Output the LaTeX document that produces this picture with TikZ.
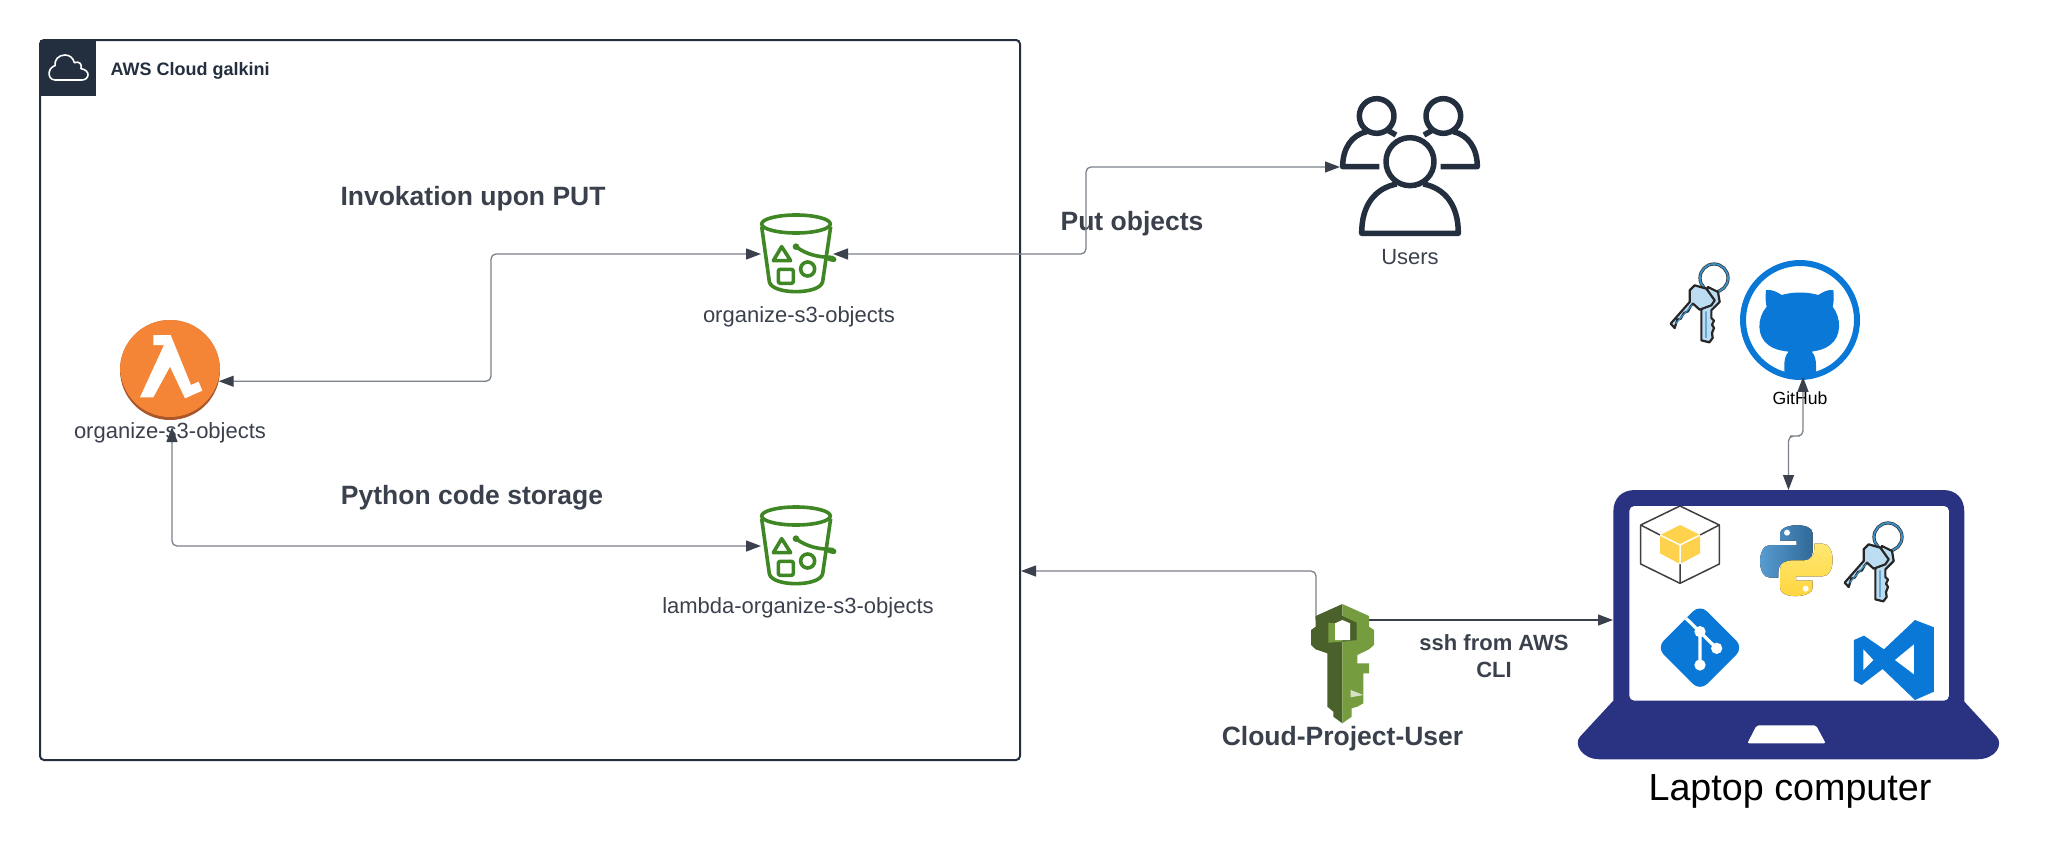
\documentclass[tikz,border=0pt]{standalone}
\usepackage{fontspec}
\setmainfont{Liberation Sans}
\usetikzlibrary{arrows.meta}
\definecolor{awsnavy}{HTML}{232F3E}
\definecolor{inktext}{HTML}{3A414C}
\definecolor{connline}{HTML}{7B818A}
\definecolor{bucketgreen}{HTML}{3F8624}
\definecolor{lambdaorange}{HTML}{F58536}
\definecolor{lambdadark}{HTML}{A9562A}
\definecolor{keylight}{HTML}{759C3E}
\definecolor{keydark}{HTML}{4B612C}
\definecolor{laptopblue}{HTML}{2A3282}
\definecolor{msblue}{HTML}{0A78D7}
\definecolor{keyfill}{HTML}{BCDCF2}
\definecolor{keyring}{HTML}{3A8FC4}
\definecolor{cubeyellow}{HTML}{FFD24D}
\definecolor{pyblueA}{HTML}{5A9FD4}
\definecolor{pyblueB}{HTML}{306998}
\definecolor{pyyellowA}{HTML}{FFE873}
\definecolor{pyyellowB}{HTML}{FFD43B}
\tikzset{
    conn/.style={draw=connline, line width=1.3pt, rounded corners=5pt},
    hold/.style={inner sep=0pt, outer sep=0pt},
    small/.style={text=inktext, font=\fontsize{22}{26}\selectfont},
    heading/.style={text=inktext, font=\fontsize{26.5}{31}\selectfont\bfseries},
}
\begin{document}
\begin{tikzpicture}[x=1pt, y=-1pt, >={Triangle[length=15pt,width=11pt,color=inktext]}]
    \useasboundingbox (0,0) rectangle (2071,846);

    % cloud frame
    \node[hold, draw=awsnavy, line width=2pt, rounded corners=4pt, minimum width=980pt, minimum height=720pt] (cloudbox) at (530,400) {};
    \node[hold, fill=awsnavy, minimum size=56pt] (cloudtag) at (68,68) {};
    \begin{scope}[shift={(20,20)}, scale=0.3333]
        \draw[white, line width=1.6pt, line join=round] (105,180) .. controls (90,180) and (85,165) .. (88,155) .. controls (90,145) and (100,138) .. (105,137) .. controls (103,120) and (115,105) .. (135,105) .. controls (150,105) and (160,115) .. (163,128) .. controls (178,122) and (187,133) .. (183,146) .. controls (198,148) and (205,158) .. (204,165) .. controls (203,175) and (195,180) .. (185,180) -- cycle;
    \end{scope}
    \node[anchor=west, text=awsnavy, font=\fontsize{18}{22}\selectfont\bfseries] (cloudtitle) at (107,70.5) {AWS Cloud galkini};

    \node[heading] (invoketext) at (473,198.5) {Invokation upon PUT};
    \node[heading] (storetext) at (472,498) {Python code storage};
    \node[heading] (puttext) at (1132,223.5) {Put objects};

    % lambda
    \node[hold, circle, fill=lambdadark, minimum size=100pt] (lambda) at (170,370) {};
    \begin{scope}
        \clip (170,370) circle (50pt);
        \fill[lambdaorange] (170,367) circle (50pt);
    \end{scope}
    \begin{scope}[shift={(90,300)}, scale=0.3333]
        \fill[white] (190,105) -- (242,105) -- (303,255) -- (326,245) -- (337,272) -- (285,295) -- (240,200) -- (190,292) -- (150,292) -- (222,135) -- (190,135) -- cycle;
    \end{scope}
    \node[small] (lambdatext) at (170,433) {organize-s3-objects};
    \coordinate (lambdaIn) at (172,427);

    % buckets
    \node[hold, minimum width=72pt, minimum height=76pt] (bucketA) at (797,254) {};
    \node[hold, minimum width=72pt, minimum height=76pt] (bucketB) at (797,546) {};
    \foreach \dy in {0,292} {
        \begin{scope}[shift={(720,200+\dy)}, scale=0.3333, draw=bucketgreen, line width=3.6pt, line join=round]
            \draw (228,72) ellipse (103pt and 27pt);
            \draw (125,80) -- (148,245) .. controls (155,285) and (300,285) .. (308,245) -- (332,80);
            \draw (185,140) -- (160,182) -- (212,182) -- cycle;
            \draw[rounded corners=2pt] (175,208) rectangle (220,250);
            \draw (263,207) circle (21pt);
            \draw (228,140) .. controls (260,165) and (300,172) .. (335,172) .. controls (352,178) and (345,186) .. (322,175);
            \fill[bucketgreen] (228,140) circle (10pt);
        \end{scope}
    }
    \node[small] (bucketAtext) at (799,316.5) {organize-s3-objects};
    \node[small] (bucketBtext) at (798,607.5) {lambda-organize-s3-objects};

    % users
    \node[hold, minimum size=140pt] (users) at (1410,167) {};
    \begin{scope}[shift={(1320,80)}, scale=0.3333, draw=awsnavy, line width=5.5pt, line join=round]
        \draw (170,108) circle (52pt);
        \draw (370,108) circle (52pt);
        \draw (270,245) circle (72pt);
        \draw (230,312) .. controls (165,325) and (125,375) .. (125,460) -- (415,460) .. controls (415,375) and (375,325) .. (310,312);
        \draw (140,155) .. controls (95,165) and (68,205) .. (68,260) -- (178,260);
        \draw (400,155) .. controls (445,165) and (472,205) .. (472,260) -- (362,260);
        \draw (205,152) -- (228,165);
        \draw (335,152) -- (312,165);
    \end{scope}
    \node[small] (userstext) at (1410,257) {Users};

    % github
    \node[hold, circle, draw=msblue, line width=6pt, minimum size=114pt] (github) at (1800,320) {};
    \begin{scope}[shift={(1640,240)}, scale=0.3333]
        \fill[msblue] (378,150) .. controls (395,148) and (410,155) .. (425,165) .. controls (460,155) and (500,155) .. (535,165) .. controls (550,155) and (565,148) .. (580,150) .. controls (582,170) and (582,185) .. (578,200) .. controls (605,235) and (605,290) .. (570,315) .. controls (555,327) and (535,332) .. (515,335) .. controls (525,345) and (528,360) .. (528,375) -- (528,408) .. controls (495,420) and (465,420) .. (433,408) -- (433,375) .. controls (433,360) and (436,345) .. (446,335) .. controls (420,332) and (400,327) .. (385,315) .. controls (350,290) and (350,235) .. (380,200) .. controls (376,185) and (376,170) .. (378,150) -- cycle;
    \end{scope}
    \node[font=\fontsize{17.6}{21}\selectfont] (githubtext) at (1800,398) {GitHub};

    % laptop
    \node[hold, minimum width=351pt, minimum height=260pt] (laptop) at (1788.5,620) {};
    \begin{scope}[shift={(1600,490)}, scale=0.3333]
        \fill[laptopblue] (40,632) -- (40,65) .. controls (40,25) and (65,0) .. (105,0) -- (1030,0) .. controls (1068,0) and (1093,25) .. (1093,65) -- (1093,635) -- (1190,740) .. controls (1210,762) and (1190,808) .. (1130,808) -- (0,808) .. controls (-55,808) and (-80,762) .. (-60,740) -- cycle;
        \fill[white, rounded corners=5pt] (88,48) rectangle (1047,632);
        \fill[white, rounded corners=2pt] (470,706) -- (648,706) -- (677,760) -- (442,760) -- cycle;
        % box
        \draw[black!75, line width=1.5pt, line join=round] (122,105) -- (240,48) -- (358,105) -- (358,222) -- (240,280) -- (122,222) -- cycle;
        \draw[black!75, line width=1.5pt] (122,105) -- (180,135) (358,105) -- (300,135) (240,280) -- (240,222);
        \fill[cubeyellow] (240,105) -- (300,135) -- (300,190) -- (240,222) -- (180,190) -- (180,135) -- cycle;
        \draw[white, line width=1.5pt] (180,135) -- (240,165) -- (300,135) (240,165) -- (240,222);
        % python
        \begin{scope}
            \fill[left color=pyblueA, right color=pyblueB] (540,152) -- (540,130) .. controls (540,100) and (638,95) .. (638,130) -- (638,185) .. controls (638,205) and (620,213) .. (600,213) -- (565,213) .. controls (548,213) and (535,225) .. (535,245) -- (535,263) -- (510,263) .. controls (470,263) and (470,165) .. (510,165) -- (590,165) -- (590,152) -- cycle;
            \fill[white] (561,128) circle (9pt);
            \fill[top color=pyyellowA, bottom color=pyyellowB] (638,272) -- (638,294) .. controls (638,324) and (540,329) .. (540,294) -- (540,239) .. controls (540,219) and (558,211) .. (578,211) -- (613,211) .. controls (630,211) and (643,199) .. (643,179) -- (643,161) -- (668,161) .. controls (708,161) and (708,259) .. (668,259) -- (588,259) -- (588,272) -- cycle;
            \fill[white] (617,296) circle (9pt);
        \end{scope}
        % git
        \fill[msblue, rounded corners=10pt] (300,343) -- (430,473) -- (300,603) -- (170,473) -- cycle;
        \draw[white, line width=3.2pt] (258,385) -- (350,475) (300,425) -- (300,525);
        \fill[white] (300,425) circle (17pt) (350,475) circle (17pt) (300,525) circle (17pt);
        % vscode
        \fill[msblue] (945,390) -- (1002,412) -- (1002,605) -- (945,630) -- (848,537) -- (785,585) -- (762,572) -- (762,450) -- (792,437) -- (852,478) -- cycle;
        \fill[white] (790,478) -- (820,510) -- (790,540) -- cycle;
        \fill[white] (942,463) -- (942,553) -- (885,510) -- cycle;
    \end{scope}
    \node[font=\fontsize{37.7}{44}\selectfont] (laptoptext) at (1790,791) {Laptop computer};

    % keys
    \foreach \kx/\ky in {1714/278, 1888/537} {
        \begin{scope}[shift={(\kx,\ky)}, scale=0.3333, line join=round]
            \draw[black!80, line width=3.2pt] (0,0) circle (42pt);
            \draw[keyring, line width=1.8pt] (0,0) circle (42pt);
            \draw[fill=keyfill, draw=black!85, line width=2.2pt] (-18,27) -- (12,42) -- (17,72) -- (-8,97) -- (-8,120) -- (0,128) -- (-6,140) -- (0,150) -- (-6,165) -- (-4,180) -- (-14,193) -- (-38,187) -- (-38,97) -- cycle;
            \draw[fill=keyfill, draw=black!85, line width=2.2pt] (-58,22) -- (-23,32) -- (2,67) -- (-8,82) -- (-43,95) -- (-63,77) -- (-70,85) -- (-78,100) -- (-90,105) -- (-100,122) -- (-110,125) -- (-118,150) -- (-130,137) -- (-73,72) -- (-73,37) -- cycle;
            \draw[keyring, line width=1.2pt] (-65,80) -- (-115,137) (-24,100) -- (-24,180);
        \end{scope}
    }

    % connectors
    \coordinate (turnA) at (491,300);
    \coordinate (turnB) at (1086,210);
    \coordinate (keyUp) at (1316,620);
    \coordinate (keyOut) at (1368,620);
    \coordinate (boxIn) at (1021,571);
    \coordinate (turnG) at (1795,436);
    \draw[conn, <->] (bucketA.west) -| (turnA) |- (lambda.-13);
    \draw[conn, <->] (bucketA.east) -| (turnB) |- (users.west);
    \draw[conn, <->] (lambdaIn) |- (bucketB.west);
    \draw[conn, ->] (keyUp) |- (boxIn);
    \draw[conn, ->, draw=inktext] (keyOut) -- (laptop.west);
    \draw[conn, <->] (github.-87) |- (turnG) -| (laptop.north);

    % iam key
    \node[hold, minimum width=64pt, minimum height=120pt] (iamkey) at (1342,664) {};
    \begin{scope}[shift={(1280,590)}, scale=0.3333]
        \fill[keydark] (187,42) -- (107,78) -- (107,110) -- (93,120) -- (93,165) -- (107,178) -- (142,190) -- (142,350) -- (160,365) -- (160,380) -- (187,400) -- cycle;
        \fill[keylight] (187,42) -- (267,78) -- (267,110) -- (282,120) -- (282,165) -- (267,178) -- (232,195) -- (232,220) -- (267,220) -- (267,250) -- (250,250) -- (250,340) -- (232,350) -- (215,355) -- (215,380) -- (187,400) -- cycle;
        \fill[keydark] (145,98) -- (187,78) -- (230,98) -- (230,150) -- (187,155) -- (145,158) -- cycle;
        \fill[keylight] (145,98) -- (165,100) -- (165,150) -- (187,150) -- (187,155) -- (145,158) -- cycle;
        \fill[white] (165,100) -- (187,90) -- (210,100) -- (210,150) -- (165,150) -- cycle;
        \fill[white!70!keylight] (212,300) -- (250,315) -- (212,322) -- cycle;
    \end{scope}
    \node[heading] (iamkeytext) at (1342.5,739) {Cloud-Project-User};
    \node[text=inktext, align=center, font=\fontsize{22}{27}\selectfont\bfseries] (sshtext) at (1494,656) {ssh from AWS\\CLI};
\end{tikzpicture}
\end{document}
